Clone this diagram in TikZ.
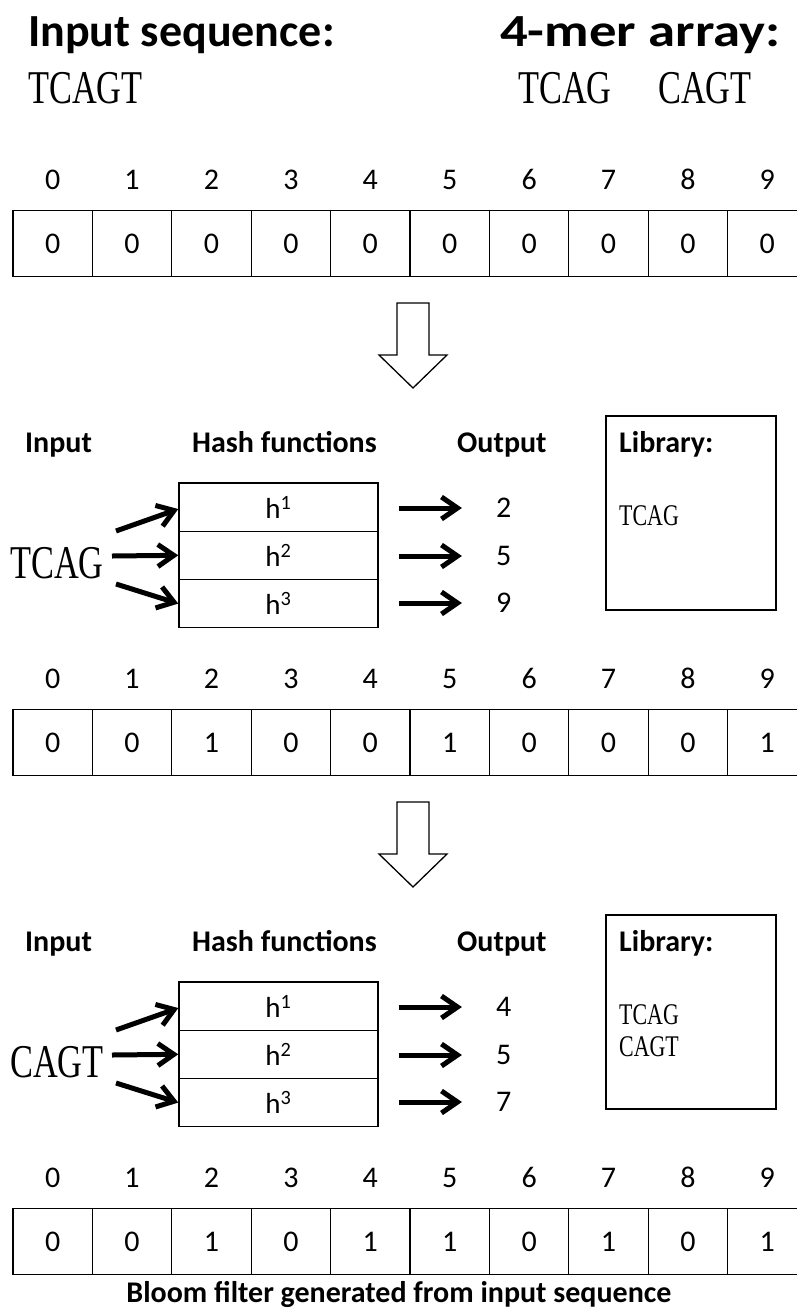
\documentclass[tikz,border=0pt]{standalone}
\usepackage{fontspec}
\setmainfont{Carlito}
\newfontfamily\seqfont[FakeStretch=0.73]{Liberation Serif}
\usetikzlibrary{arrows.meta,calc}
\pgfarrowsdeclare{chev}{chev}
{\pgfarrowsleftextend{-17pt}\pgfarrowsrightextend{4.5pt}}
{\pgfsetdash{}{0pt}\pgfsetmiterjoin\pgfsetbuttcap
 \pgfpathmoveto{\pgfpoint{-16pt}{11pt}}
 \pgfpathlineto{\pgfpoint{0pt}{0pt}}
 \pgfpathlineto{\pgfpoint{-16pt}{-11pt}}
 \pgfusepathqstroke}
\tikzset{
  title/.style={font=\bfseries\fontsize{46}{50}\selectfont, anchor=base west, inner sep=0},
  seqbig/.style={font=\seqfont\fontsize{47}{50}\selectfont, anchor=base west, inner sep=0},
  seqsmall/.style={font=\seqfont\fontsize{30}{32}\selectfont, anchor=north west, inner sep=0, align=left},
  head/.style={font=\bfseries\fontsize{30}{34}\selectfont, anchor=base west, inner sep=0},
  num/.style={font=\fontsize{30}{32}\selectfont, inner sep=0, text height=19pt, text depth=0pt},
  cell/.style={draw, line width=1.3pt, minimum width=79.4pt, minimum height=66.5pt, inner sep=0,
    text height=19pt, text depth=0pt, font=\fontsize{30}{32}\selectfont},
  hrow/.style={draw, line width=1.3pt, minimum width=199pt, minimum height=48.3pt, inner sep=0,
    font=\fontsize{29}{32}\selectfont},
  libbox/.style={draw, line width=1.3pt, minimum width=170pt, minimum height=194pt, inner sep=0},
  harrow/.style={line width=5pt, -chev},
  bigarrow/.style={draw, line width=1.3pt, fill=white},
}
\newcommand\bitarray[3]{% #1 name, #2 y offset, #3 values
  \foreach \v [count=\i from 0] in {#3} {
    \node[num] (#1i\i) at ({52.7+79.4*\i},{180+#2}) {\i};
    \node[cell] (#1c\i) at ({52.7+79.4*\i},{243.5+#2}) {\v};
  }}
\newcommand\hashpart[7]{% #1 suffix, #2 y offset, #3 word, #4-#6 outputs, #7 library
  \begin{scope}[yshift=-#2pt]
    \draw[bigarrow] (397,303) -- (429,303) -- (429,355) -- (447,355) -- (413,388)
      -- (379,355) -- (397,355) -- cycle;
    \node[head] (hin#1) at (25,452) {Input};
    \node[head] (hhf#1) at (192,452) {Hash functions};
    \node[head] (hout#1) at (457,452) {Output};
    \node[libbox] (lib#1) at (691,513) {};
    \node[head] (libt#1) at (619,452) {Library:};
    \node[seqsmall] (libc#1) at (619,505) {#7};
    \node[hrow] (ha#1) at (278.5,507) {h\textsuperscript{1}};
    \node[hrow] (hb#1) at (278.5,555.3) {h\textsuperscript{2}};
    \node[hrow] (hc#1) at (278.5,603.6) {h\textsuperscript{3}};
    \node[seqbig] (w#1) at (10,578) {#3};
    \coordinate (sa#1) at (116,531);
    \coordinate (sb#1) at (112,556);
    \coordinate (sc#1) at (116,584);
    \draw[harrow] (sa#1) -- ($(ha#1.west)+(0,2)$);
    \draw[harrow] (sb#1) -- (hb#1.west);
    \draw[harrow] (sc#1) -- (hc#1.west);
    \node[num, anchor=west] (oa#1) at (496,508) {#4};
    \node[num, anchor=west] (ob#1) at (496,556) {#5};
    \node[num, anchor=west] (oc#1) at (496,603) {#6};
    \draw[harrow, shorten <=20pt, shorten >=34pt] (ha#1.east |- oa#1.west) -- (oa#1.west);
    \draw[harrow, shorten <=20pt, shorten >=34pt] (hb#1.east |- ob#1.west) -- (ob#1.west);
    \draw[harrow, shorten <=20pt, shorten >=34pt] (hc#1.east |- oc#1.west) -- (oc#1.west);
  \end{scope}}
\begin{document}
\begin{tikzpicture}[x=1pt,y=-1pt]
  \useasboundingbox (0,0) rectangle (797,1312);
  \clip (0,0) rectangle (797,1312);
  \node[title] (tin) at (28,46) {Input sequence:};
  \node[title] (tkm) at (500,46) {\scalebox{1.19}[1]{4-mer array:}};
  \node[seqbig] (seq) at (28,103) {TCAGT};
  \node[seqbig] (k1) at (518,103) {TCAG};
  \node[seqbig] (k2) at (658,103) {CAGT};
  \bitarray{A}{0}{0,0,0,0,0,0,0,0,0,0}
  \hashpart{1}{0}{TCAG}{2}{5}{9}{TCAG}
  \bitarray{B}{499}{0,0,1,0,0,1,0,0,0,1}
  \hashpart{2}{499}{CAGT}{4}{5}{7}{TCAG\\CAGT}
  \bitarray{C}{998}{0,0,1,0,1,1,0,1,0,1}
  \node[font=\bfseries\fontsize{30}{34}\selectfont, anchor=base, inner sep=0] (cap) at (399,1302) {Bloom filter generated from input sequence};
\end{tikzpicture}
\end{document}
